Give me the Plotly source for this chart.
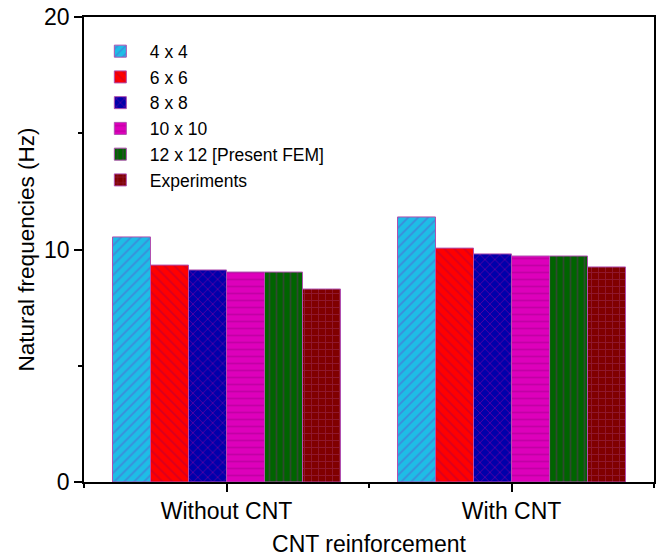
import plotly.graph_objects as go

categories = ["Without CNT", "With CNT"]
series_names = ["4 x 4", "6 x 6", "8 x 8", "10 x 10", "12 x 12 [Present FEM]", "Experiments"]
values = {
    "4 x 4": [10.54, 11.40],
    "6 x 6": [9.33, 10.06],
    "8 x 8": [9.12, 9.81],
    "10 x 10": [9.03, 9.72],
    "12 x 12 [Present FEM]": [9.03, 9.72],
    "Experiments": [8.30, 9.25],
}
y_ticks = [0, 10, 20]

styles = {
    "4 x 4": dict(bg="#1EBDE6", fg="#5A5ACD", shape="/"),
    "6 x 6": dict(bg="#FF0000", fg="#B00040", shape="\\"),
    "8 x 8": dict(bg="#0000AA", fg="#A000A0", shape="x"),
    "10 x 10": dict(bg="#DD00BB", fg="#A80090", shape="-"),
    "12 x 12 [Present FEM]": dict(bg="#006400", fg="#603060", shape="|"),
    "Experiments": dict(bg="#800000", fg="#A03060", shape="+"),
}

FONT = "Liberation Sans, Arial, sans-serif"
xpos = list(range(len(categories)))

fig = go.Figure()
for name in series_names:
    s = styles[name]
    fig.add_trace(go.Bar(
        name=name, x=xpos, y=values[name],
        marker=dict(
            color=s["bg"],
            line=dict(color="#B050B0", width=1),
            pattern=dict(shape=s["shape"], fgcolor=s["fg"], bgcolor=s["bg"],
                         size=7, solidity=0.25, fillmode="overlay"),
        ),
    ))

fig.update_layout(
    width=661, height=557,
    margin=dict(l=84, r=7, t=17, b=75),
    paper_bgcolor="white", plot_bgcolor="white",
    barmode="group", bargap=0.2, bargroupgap=0,
    font=dict(family=FONT, size=23, color="black"),
    showlegend=True,
    legend=dict(x=0.012, y=0.965, xanchor="left", yanchor="top",
                bgcolor="rgba(0,0,0,0)", font=dict(size=17.5),
                tracegroupgap=0, itemwidth=49),
    xaxis=dict(
        range=[-0.5, len(categories) - 0.5],
        tickvals=xpos, ticktext=categories,
        ticks="outside", ticklen=8, tickwidth=1.5, tickcolor="black",
        minor=dict(tickvals=[-0.5, 0.5, 1.5], ticks="outside", ticklen=4,
                   tickwidth=1.5, tickcolor="black"),
        showline=True, linecolor="black", linewidth=1.5, mirror=True,
        showgrid=False, zeroline=False, automargin=False,
        title=dict(text="CNT reinforcement", standoff=14, font=dict(size=23)),
        tickfont=dict(size=23),
    ),
    yaxis=dict(
        range=[0, 20], tickvals=y_ticks,
        ticks="outside", ticklen=8, tickwidth=1.5, tickcolor="black",
        minor=dict(dtick=5, ticks="outside", ticklen=4, tickwidth=1.5, tickcolor="black"),
        showline=True, linecolor="black", linewidth=1.5, mirror=True,
        showgrid=False, zeroline=False, automargin=False,
        title=dict(text="Natural frequencies (Hz)", standoff=3, font=dict(size=22.5)),
        tickfont=dict(size=23),
    ),
    yaxis2=dict(
        overlaying="y", side="right", range=[0, 20], tickvals=y_ticks,
        ticks="inside", ticklen=7, tickwidth=1.5, tickcolor="black",
        minor=dict(dtick=5, ticks="inside", ticklen=4, tickwidth=1.5, tickcolor="black"),
        showticklabels=False, showline=False, showgrid=False, zeroline=False,
        automargin=False,
    ),
)

fig.write_html("out.html")
